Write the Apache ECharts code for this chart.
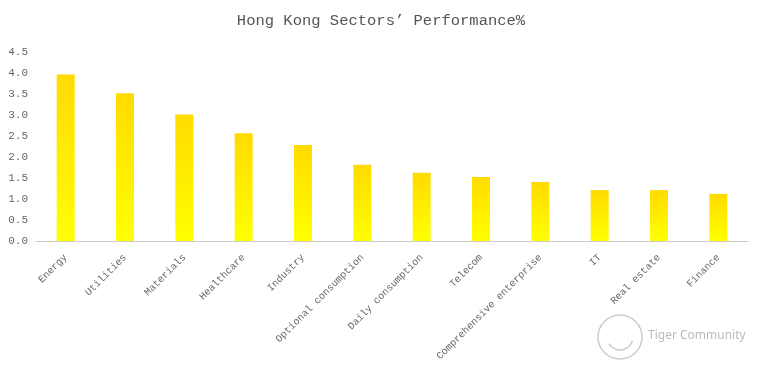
<!DOCTYPE html>
<html><head><meta charset="utf-8">
<script src="https://cdn.jsdelivr.net/npm/echarts@6/dist/echarts.min.js"></script>
<style>html,body{margin:0;padding:0;background:#fff}#c{width:762px;height:375px}</style>
</head><body><div id="c"></div>
<script>
var categories = ['Energy','Utilities','Materials','Healthcare','Industry','Optional consumption','Daily consumption','Telecom','Comprehensive enterprise','IT','Real estate','Finance'];
var values = [3.96, 3.51, 3.01, 2.56, 2.28, 1.81, 1.62, 1.52, 1.40, 1.21, 1.21, 1.12];
var yTicks = {min: 0, max: 4.5, interval: 0.5};
var chart = echarts.init(document.getElementById('c'));
chart.setOption({
  animation: false,
  title: {text: 'Hong Kong Sectors\u2019 Performance%', left: 'center', top: 8,
    textStyle: {fontFamily: 'Liberation Mono', fontSize: 15.5, fontWeight: 'normal', color: '#555'}},
  grid: {left: 36, right: 14, top: 51.7, bottom: 134},
  xAxis: {type: 'category', data: categories,
    axisLine: {lineStyle: {color: '#ccc'}}, axisTick: {show: false},
    axisLabel: {rotate: 45, interval: 0, margin: 15, fontFamily: 'Liberation Mono', fontSize: 10, color: '#666'}},
  yAxis: {type: 'value', min: yTicks.min, max: yTicks.max, interval: yTicks.interval,
    axisLine: {show: false}, axisTick: {show: false}, splitLine: {show: false},
    axisLabel: {formatter: function(v){return v.toFixed(1);}, fontFamily: 'Liberation Mono', fontSize: 11, color: '#666', margin: 8}},
  series: [{type: 'bar', data: values, barWidth: 18,
    itemStyle: {color: new echarts.graphic.LinearGradient(0,0,0,1,[{offset:0,color:'#FFDB00'},{offset:1,color:'#FFFF00'}])}}],
  graphic: [
    {type: 'circle', shape: {cx: 620, cy: 337, r: 22}, style: {fill: 'none', stroke: '#ccc', lineWidth: 1.5}},
    {type: 'arc', shape: {cx: 620, cy: 337, r: 13, startAngle: 0.3, endAngle: 2.6}, style: {fill: 'none', stroke: '#ccc', lineWidth: 1.5}},
    {type: 'text', left: 648, top: 330, style: {text: 'Tiger Community', fill: '#bbb', font: '12px "Noto Sans"'}}
  ]
});
</script></body></html>
